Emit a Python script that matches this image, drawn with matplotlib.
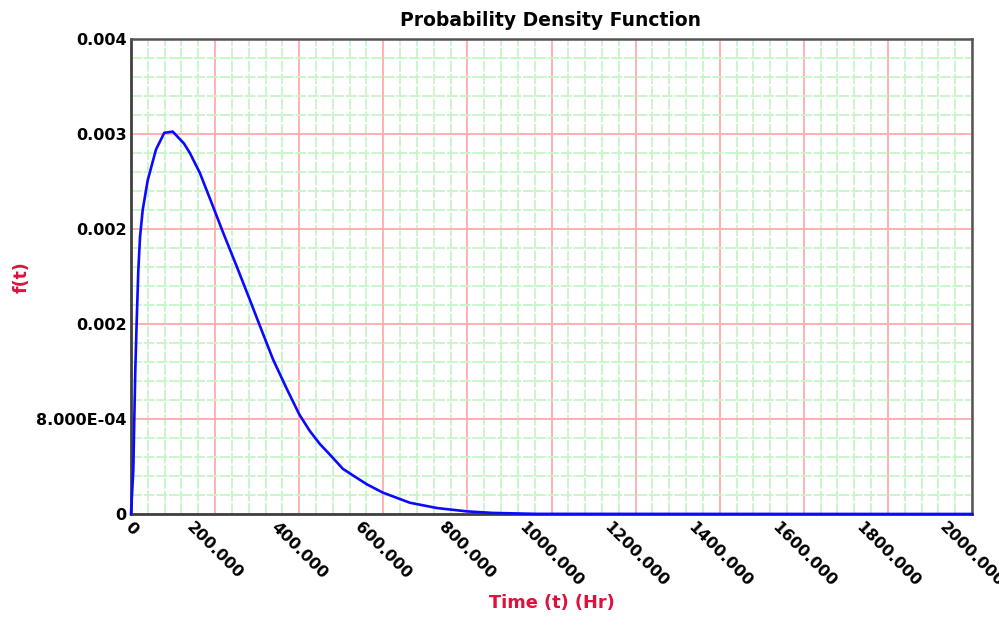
import matplotlib
matplotlib.use("Agg")
import matplotlib.pyplot as plt
from matplotlib.ticker import MultipleLocator, FixedLocator, FixedFormatter

# pdf curve points (time in hours, density)
time_hr = [0, 5.5, 7.8, 10.2, 13.6, 17.4, 21.4, 27.8, 39.7, 59.5, 79.2, 99.2,
           126, 140, 164, 195, 219, 252, 283, 307, 338, 371, 400, 425, 449,
           473, 504, 530, 561, 599, 663, 728, 799, 861, 965, 2000]
density = [0, 0.000371, 0.000792, 0.00121, 0.00163, 0.00205, 0.00233, 0.00256,
           0.00281, 0.00307, 0.00321, 0.00322, 0.00312, 0.00304, 0.00287,
           0.00259, 0.00237, 0.00208, 0.00180, 0.00158, 0.00130, 0.00105,
           0.00084, 0.00070, 0.00059, 0.00050, 0.00038, 0.00032, 0.00025,
           0.00018, 0.000095, 0.00005, 0.000022, 0.000009, 0.000001, 0]

x_ticks = [0, 200, 400, 600, 800, 1000, 1200, 1400, 1600, 1800, 2000]
x_labels = ["0", "200.000", "400.000", "600.000", "800.000", "1000.000",
            "1200.000", "1400.000", "1600.000", "1800.000", "2000.000"]
y_ticks = [0, 0.0008, 0.0016, 0.0024, 0.0032, 0.004]
y_labels = ["0", "8.000E-04", "0.002", "0.002", "0.003", "0.004"]

label_red = "#e0103c"

fig = plt.figure(figsize=(9.99, 6.19), dpi=100)
ax = fig.add_axes([131 / 999, 1 - 514 / 619, 841 / 999, 475 / 619])

ax.set_xlim(0, 2000)
ax.set_ylim(0, 0.004)

ax.xaxis.set_major_locator(FixedLocator(x_ticks))
ax.xaxis.set_major_formatter(FixedFormatter(x_labels))
ax.yaxis.set_major_locator(FixedLocator(y_ticks))
ax.yaxis.set_major_formatter(FixedFormatter(y_labels))
ax.xaxis.set_minor_locator(MultipleLocator(40))
ax.yaxis.set_minor_locator(MultipleLocator(0.00016))

ax.grid(which="minor", color="#c8f5c8", linewidth=1.3, linestyle=(0, (6, 1)))
ax.grid(which="major", color="#ffb0b0", linewidth=1.4)
ax.set_axisbelow(True)

ax.tick_params(which="both", length=0)
ax.tick_params(axis="y", pad=3, labelsize=11.5)
ax.tick_params(axis="x", pad=4, labelsize=11.5)
for lab in ax.get_yticklabels():
    lab.set_fontweight("bold")
for lab in ax.get_xticklabels():
    lab.set_fontweight("bold")
    lab.set_rotation(-45)
    lab.set_ha("center")
    lab.set_va("top")

for side in ["left", "bottom"]:
    ax.spines[side].set_color("#404040")
    ax.spines[side].set_linewidth(2)
for side in ["top", "right"]:
    ax.spines[side].set_color("#555555")
    ax.spines[side].set_linewidth(1.8)

ax.plot(time_hr, density, color="#0a0aff", linewidth=1.9, clip_on=False,
        zorder=5, solid_joinstyle="round")

fig.text(551 / 999, 1 - 20 / 619, "Probability Density Function",
         ha="center", va="center", fontsize=13.5, fontweight="bold")
fig.text(552 / 999, 1 - 603 / 619, "Time (t) (Hr)", ha="center", va="center",
         fontsize=12.8, fontweight="bold", color=label_red)
fig.text(22 / 999, 1 - 277 / 619, "f(t)", ha="center", va="center",
         rotation=90, fontsize=12.5, fontweight="bold", color=label_red)

fig.savefig("out.png", dpi=100)
